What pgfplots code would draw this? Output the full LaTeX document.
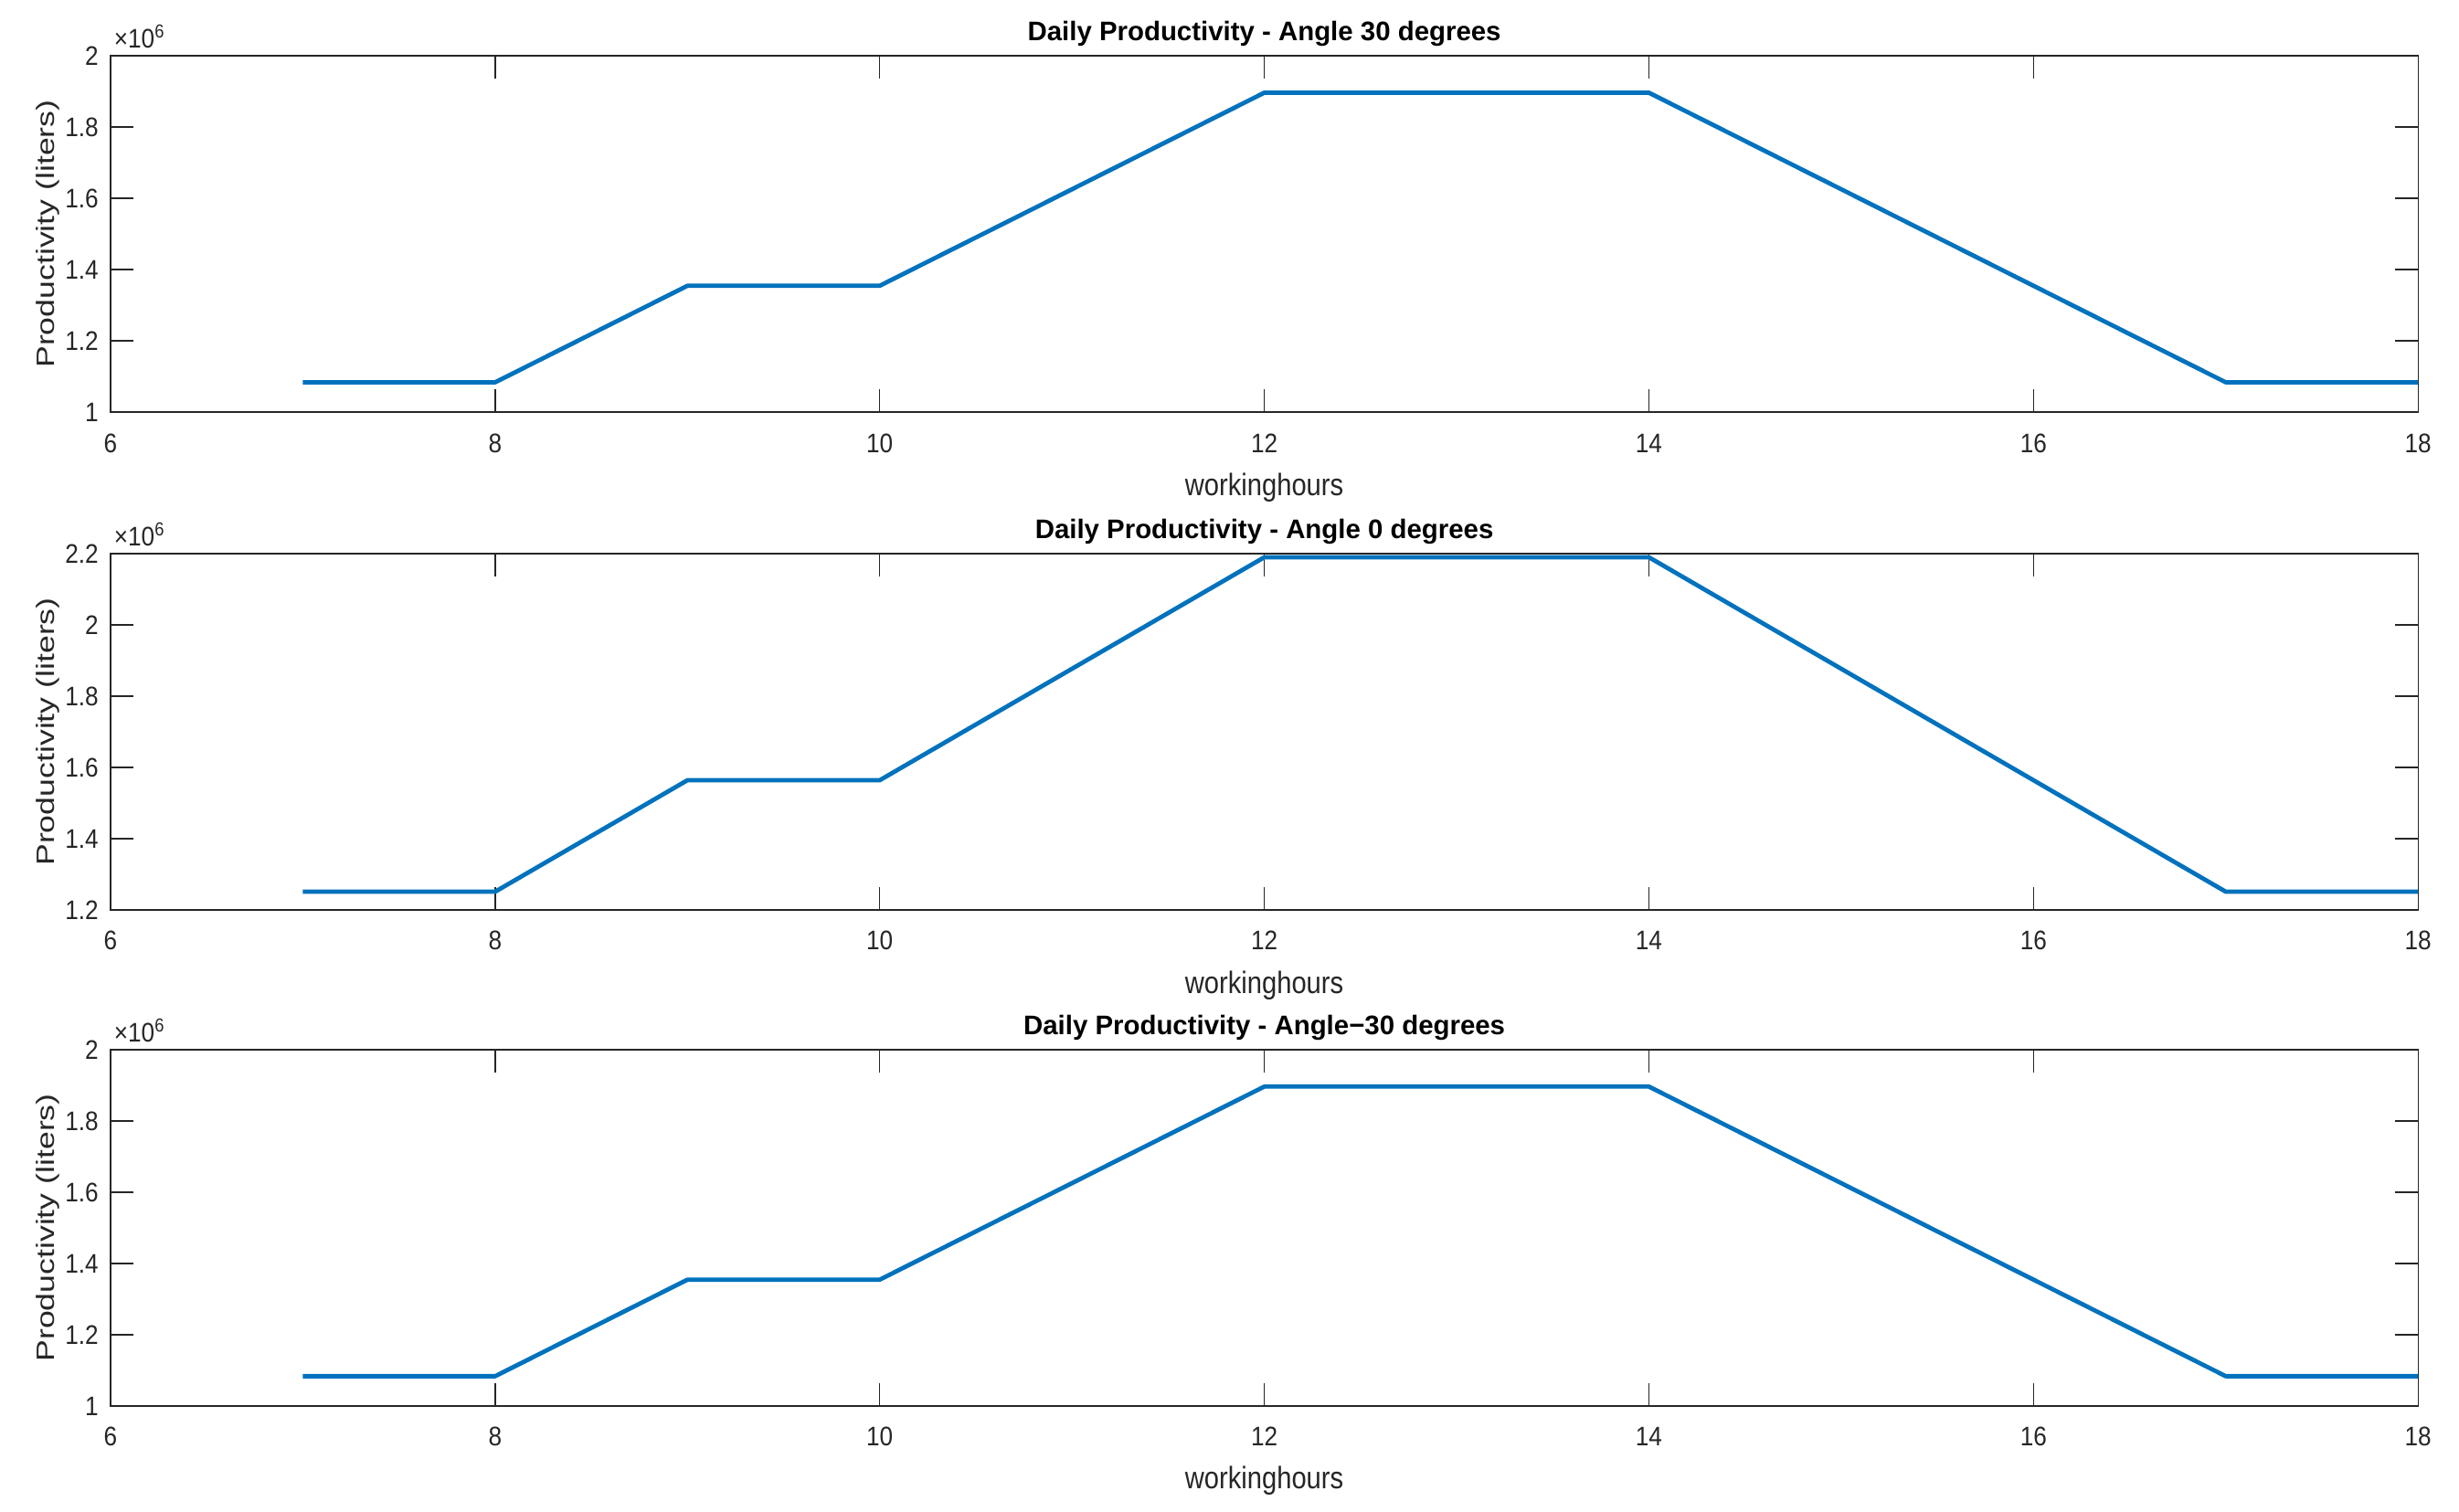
\documentclass[border=0pt]{standalone}
\usepackage{fontspec}
\setmainfont{Liberation Sans}
\newfontfamily\tickfont[FakeStretch=0.89]{Liberation Sans}
\newfontfamily\xlabfont[FakeStretch=0.86]{Liberation Sans}
\newfontfamily\ylabfont[FakeStretch=1.3]{Liberation Sans}
\usepackage{pgfplots}
\pgfplotsset{compat=1.18}
\definecolor{mlblue}{RGB}{0,114,189}
\definecolor{mlaxis}{RGB}{38,38,38}

\tikzset{scalelabel/.style={anchor=base west, inner sep=0pt, text=mlaxis,
    font=\fontsize{10.5}{12}\tickfont}}

% y values in units of 10^6 liters
\pgfplotsset{
  prod/.style={
    scale only axis, width=901.8pt, height=139.3pt, anchor=south west,
    clip=false,
    xmin=6, xmax=18, xtick={6,8,...,18},
    axis line style={mlaxis, line width=0.5pt},
    tick style={mlaxis, line width=0.5pt},
    major tick length=9pt,
    tick align=inside,
    /pgf/number format/assume math mode=true,
    ticklabel style={font=\fontsize{10.5}{12}\tickfont, text=mlaxis},
    xticklabel style={anchor=base, yshift=-15.7pt},
    yticklabel style={anchor=east, xshift=-1.2pt},
    xlabel={workinghours},
    ylabel={Productivity (liters)},
    x label style={at={(axis description cs:0.5,0)}, anchor=base, yshift=-32.5pt,
      font=\fontsize{12.1}{14}\xlabfont, text=mlaxis},
    y label style={at={([xshift=-22pt]axis description cs:0,0.5)}, anchor=base,
      font=\fontsize{9.8}{11}\ylabfont, text=mlaxis},
    every axis title shift=0pt,
    title style={at={(axis description cs:0.5,1)}, anchor=base, yshift=5.8pt,
      font=\bfseries\fontsize{10.5}{12}\selectfont, text=black},
  },
  prodline/.style={mlblue, line width=1.7pt, line join=round, mark=none},
}

\begin{document}
\begin{tikzpicture}
\path[use as bounding box] (0,0) rectangle (961pt,591pt);

\begin{axis}[prod, at={(43.2pt,429.9pt)},
  ymin=1, ymax=2, ytick={1,1.2,1.4,1.6,1.8,2},
  title={Daily Productivity - Angle 30 degrees}]
\addplot[prodline] coordinates {(7,1.0836) (8,1.0836) (9,1.3545) (10,1.3545) (11,1.6254) (12,1.8963)
  (13,1.8963) (14,1.8963) (15,1.6254) (16,1.3545) (17,1.0836) (18,1.0836)};
\node[scalelabel] at ([xshift=1.2pt,yshift=2.9pt]rel axis cs:0,1) {×10\textsuperscript{6}};
\end{axis}

\begin{axis}[prod, at={(43.2pt,235.3pt)},
  ymin=1.2, ymax=2.2, ytick={1.2,1.4,1.6,1.8,2,2.2},
  title={Daily Productivity - Angle 0 degrees}]
\addplot[prodline] coordinates {(7,1.2512) (8,1.2512) (9,1.5640) (10,1.5640) (11,1.8768) (12,2.1897)
  (13,2.1897) (14,2.1897) (15,1.8768) (16,1.5640) (17,1.2512) (18,1.2512)};
\node[scalelabel] at ([xshift=1.2pt,yshift=2.9pt]rel axis cs:0,1) {×10\textsuperscript{6}};
\end{axis}

\begin{axis}[prod, at={(43.2pt,41.4pt)},
  ymin=1, ymax=2, ytick={1,1.2,1.4,1.6,1.8,2},
  title={Daily Productivity - Angle−30 degrees}]
\addplot[prodline] coordinates {(7,1.0836) (8,1.0836) (9,1.3545) (10,1.3545) (11,1.6254) (12,1.8963)
  (13,1.8963) (14,1.8963) (15,1.6254) (16,1.3545) (17,1.0836) (18,1.0836)};
\node[scalelabel] at ([xshift=1.2pt,yshift=2.9pt]rel axis cs:0,1) {×10\textsuperscript{6}};
\end{axis}
\end{tikzpicture}
\end{document}
